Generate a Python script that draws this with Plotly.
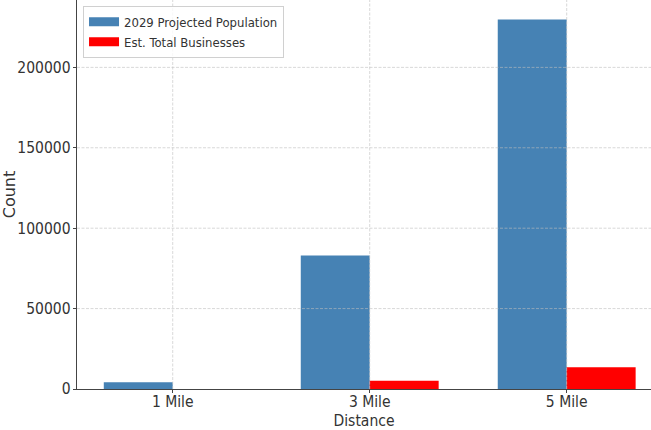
import plotly.graph_objects as go

CATEGORIES = ["1 Mile", "3 Mile", "5 Mile"]
POPULATION_2029 = [4200, 83000, 229700]
TOTAL_BUSINESSES = [50, 5200, 13500]
SERIES_NAMES = ["2029 Projected Population", "Est. Total Businesses"]
SERIES_COLORS = ["#4682B4", "#FF0000"]
Y_TICKS = [0, 50000, 100000, 150000, 200000]

FONT = "DejaVu Sans Condensed"
TEXT_COLOR = "#333333"
GRID_COLOR = "rgba(190,190,190,0.75)"

fig = go.Figure()
for name, vals, col in zip(SERIES_NAMES, [POPULATION_2029, TOTAL_BUSINESSES], SERIES_COLORS):
    fig.add_trace(go.Bar(x=CATEGORIES, y=vals, name=name, marker=dict(color=col, line=dict(width=0)),
                         showlegend=False))
    # legend proxy (wide rectangular patch like the reference)
    fig.add_trace(go.Scatter(x=[None], y=[None], mode="lines", name=name,
                             line=dict(color=col, width=9), showlegend=True))

# gridlines drawn above bars (as in reference)
for v in Y_TICKS[1:]:
    fig.add_shape(type="line", xref="paper", x0=0, x1=1, yref="y", y0=v, y1=v,
                  line=dict(color=GRID_COLOR, width=0.8, dash="3px,1.5px"), layer="above")
for c in CATEGORIES:
    fig.add_shape(type="line", xref="x", x0=c, x1=c, yref="paper", y0=0, y1=1,
                  line=dict(color=GRID_COLOR, width=0.8, dash="3px,1.5px"), layer="above")

fig.update_layout(
    width=651, height=430,
    margin=dict(l=77, r=0, t=0, b=41),
    paper_bgcolor="white", plot_bgcolor="white",
    barmode="group", bargap=0.3, bargroupgap=0,
    hovermode=False,
    font=dict(family=FONT, size=15.5, color=TEXT_COLOR),
    legend=dict(x=0.0105, y=0.985, xanchor="left", yanchor="top",
                bgcolor="rgba(255,255,255,0.8)", bordercolor="#d0d0d0", borderwidth=1,
                font=dict(family=FONT, size=13, color=TEXT_COLOR),
                itemwidth=30, tracegroupgap=0),
    xaxis=dict(
        type="category", categoryorder="array", categoryarray=CATEGORIES,
        range=[-0.486, 2.428],
        showgrid=False, zeroline=False,
        showline=True, linecolor="#444444", linewidth=1.3,
        ticks="outside", ticklen=3, tickcolor="#444444",
        ticklabelstandoff=-5,
        tickfont=dict(family=FONT, size=15.5, color=TEXT_COLOR),
        title=dict(text="Distance", font=dict(family=FONT, size=15.5, color=TEXT_COLOR), standoff=8),
        automargin=False,
    ),
    yaxis=dict(
        range=[0, 241900],
        tickvals=Y_TICKS, ticktext=[str(v) for v in Y_TICKS],
        showgrid=False, zeroline=False,
        showline=True, linecolor="#444444", linewidth=1.3,
        ticks="outside", ticklen=3, tickcolor="#444444",
        ticklabelstandoff=-1,
        tickfont=dict(family=FONT, size=15.5, color=TEXT_COLOR),
        title=dict(text="Count", font=dict(family="DejaVu Sans", size=16, color=TEXT_COLOR), standoff=0),
        automargin=False,
    ),
)

fig.write_html("out.html", config={"displayModeBar": False, "staticPlot": True},
               post_script="document.body.style.margin='0px';")
